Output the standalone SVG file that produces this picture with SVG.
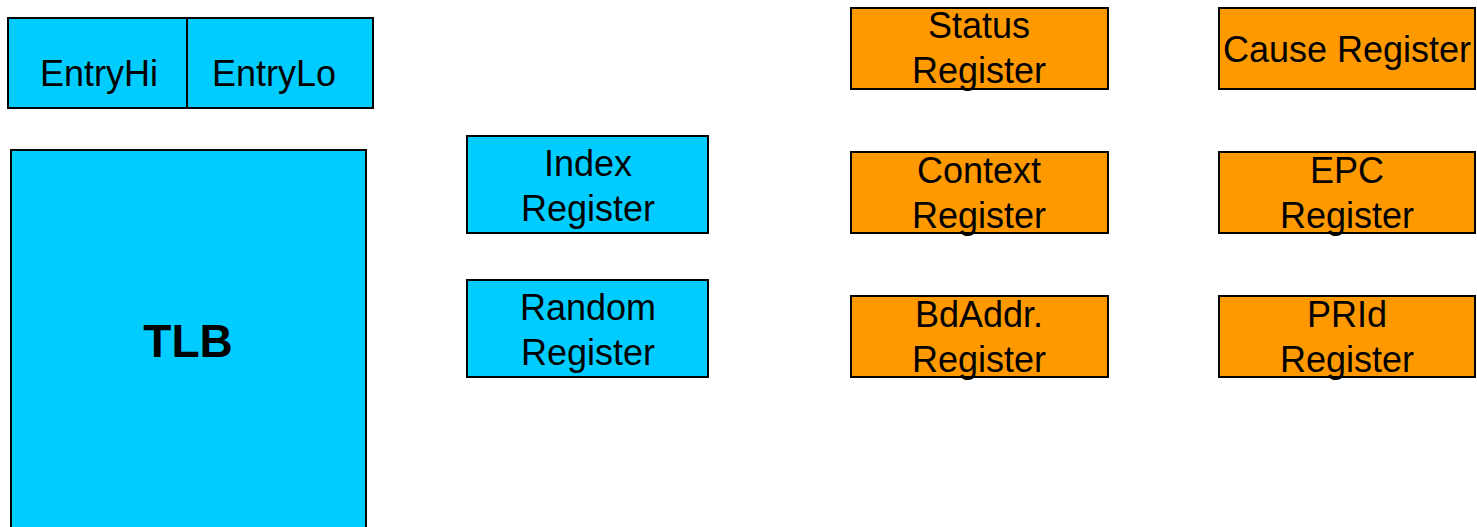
<svg xmlns="http://www.w3.org/2000/svg" width="1477" height="527" viewBox="0 0 1477 527">
<style>
.b{fill:#00CCFF;stroke:#000;stroke-width:2}
.o{fill:#FF9900;stroke:#000;stroke-width:2}
text{font-family:"Liberation Sans",Arial,sans-serif;font-size:36px;fill:#000;text-anchor:middle}
.big{font-size:46px;font-weight:bold}
</style>
<rect width="1477" height="527" fill="#fff"/>
<g id="entry">
<rect class="b" x="8" y="18" width="365" height="90"/>
<line x1="187" y1="18" x2="187" y2="108" stroke="#000" stroke-width="2"/>
<text x="99" y="86">EntryHi</text>
<text x="274" y="86">EntryLo</text>
</g>
<g id="tlb">
<rect class="b" x="11" y="150" width="355" height="390"/>
<text class="big" x="188" y="357">TLB</text>
</g>
<g id="index">
<rect class="b" x="467" y="136" width="241" height="97"/>
<text x="588" y="176">Index</text>
<text x="588" y="221">Register</text>
</g>
<g id="random">
<rect class="b" x="467" y="280" width="241" height="97"/>
<text x="588" y="320">Random</text>
<text x="588" y="365">Register</text>
</g>
<g id="status">
<rect class="o" x="851" y="8" width="257" height="81"/>
<text x="979" y="38">Status</text>
<text x="979" y="83">Register</text>
</g>
<g id="cause">
<rect class="o" x="1219" y="8" width="256" height="81"/>
<text x="1347" y="62">Cause Register</text>
</g>
<g id="context">
<rect class="o" x="851" y="152" width="257" height="81"/>
<text x="979" y="183">Context</text>
<text x="979" y="228">Register</text>
</g>
<g id="epc">
<rect class="o" x="1219" y="152" width="256" height="81"/>
<text x="1347" y="183">EPC</text>
<text x="1347" y="228">Register</text>
</g>
<g id="bdaddr">
<rect class="o" x="851" y="296" width="257" height="81"/>
<text x="979" y="327">BdAddr.</text>
<text x="979" y="372">Register</text>
</g>
<g id="prid">
<rect class="o" x="1219" y="296" width="256" height="81"/>
<text x="1347" y="327">PRId</text>
<text x="1347" y="372">Register</text>
</g>
<g id="connectors"></g>
</svg>
